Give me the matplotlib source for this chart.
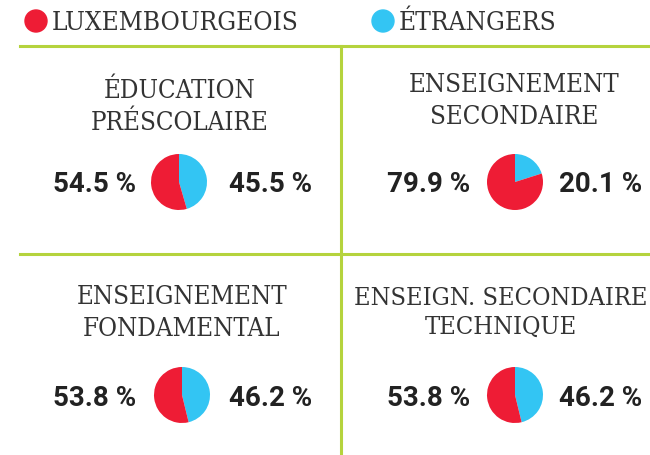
import matplotlib.pyplot as plt

# data
titles = ["ÉDUCATION\nPRÉSCOLAIRE", "ENSEIGNEMENT\nSECONDAIRE",
          "ENSEIGNEMENT\nFONDAMENTAL", "ENSEIGN. SECONDAIRE\nTECHNIQUE"]
luxembourgeois = [54.5, 79.9, 53.8, 53.8]
etrangers = [45.5, 20.1, 46.2, 46.2]
legend_labels = ["LUXEMBOURGEOIS", "ÉTRANGERS"]

RED = "#ee1c35"
BLUE = "#33c5f3"
GREEN = "#b5d33d"
TXT = "#222222"

W, H = 650, 455
fig = plt.figure(figsize=(6.5, 4.55), dpi=100)
ax = fig.add_axes([0, 0, 1, 1])
ax.set_xlim(0, W)
ax.set_ylim(H, 0)
ax.axis("off")

serif = dict(family="DejaVu Serif", stretch="condensed", color="#333333")
bold = dict(family="Roboto", weight="bold", color=TXT)

# legend
for cx, col, lab in [(36, RED, legend_labels[0]), (383, BLUE, legend_labels[1])]:
    ax.add_patch(plt.Circle((cx, 21), 11, color=col))
    ax.text(cx + 16, 22, lab, fontsize=18.8, va="center", ha="left", **serif)

# grid lines
ax.plot([20, W], [46, 46], color=GREEN, lw=2.2)
ax.plot([20, W], [254, 254], color=GREEN, lw=2.2)
ax.plot([341, 341], [46, H], color=GREEN, lw=2.2)

# panel layout (pixel coords)
pie_centers = [(179, 182), (515, 182), (182, 395), (515, 395)]
title_x = [180, 514, 182, 501]
title_y = [106, 101, 313, 313]
title_size = [18.5, 18.5, 18.5, 18.2]
left_x = [95, 429, 95, 429]
right_x = [271, 601, 271, 601]
r = 28

for i in range(4):
    cx, cy = pie_centers[i]
    ax.text(title_x[i], title_y[i], titles[i], fontsize=title_size[i],
            ha="center", va="center", linespacing=1.35, **serif)
    ax.text(left_x[i], cy + 3, f"{luxembourgeois[i]:.1f} %", fontsize=20,
            ha="center", va="center", **bold)
    ax.text(right_x[i], cy + 3, f"{etrangers[i]:.1f} %", fontsize=20,
            ha="center", va="center", **bold)
    pax = fig.add_axes([(cx - r) / W, 1 - (cy + r) / H, 2 * r / W, 2 * r / H])
    pax.pie([etrangers[i], luxembourgeois[i]], colors=[BLUE, RED],
            startangle=90, counterclock=False)
    pax.set_xlim(-1, 1)
    pax.set_ylim(-1, 1)
    pax.set_aspect("equal")

fig.savefig("out.png", dpi=100)
